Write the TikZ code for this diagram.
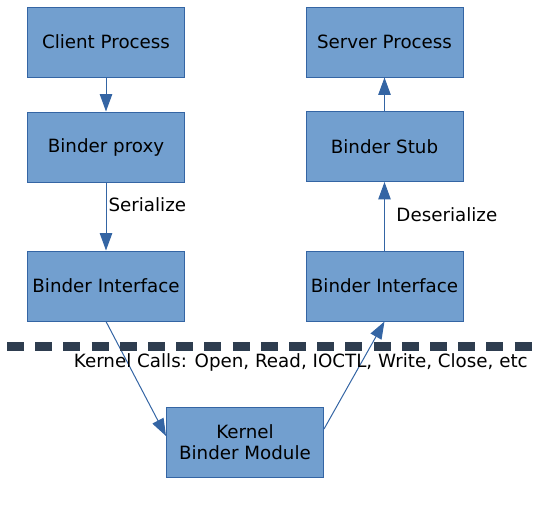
\documentclass[tikz,border=0pt]{standalone}
\usepackage{fontspec}
\setmainfont{DejaVu Sans}
\usetikzlibrary{arrows.meta}
\definecolor{boxfill}{HTML}{729FCF}
\definecolor{boxline}{HTML}{3465A4}
\definecolor{dashcol}{HTML}{2E3D4F}
\begin{document}
\begin{tikzpicture}[x=0.75pt,y=-0.75pt,
  blk/.style={draw=boxline,fill=boxfill,line width=0.75pt,minimum width=117.75pt,minimum height=52.5pt,inner sep=0pt,font=\fontsize{13.7}{15.75}\selectfont,align=center},
  conn/.style={draw=boxline,line width=0.75pt,-{Triangle[length=13pt,width=9.3pt]}},
  lbl/.style={font=\fontsize{13.7}{15.75}\selectfont,inner sep=0pt}]
\useasboundingbox (0,0) rectangle (536,529);
\node[blk] (client) at (106,42) {Client Process};
\node[blk] (proxy) at (106,147) {Binder proxy};
\node[blk] (lint) at (106,286) {Binder Interface};
\node[blk] (server) at (384.5,42) {Server Process};
\node[blk] (stub) at (384.5,146.5) {Binder Stub};
\node[blk] (rint) at (384.5,286) {Binder Interface};
\node[blk] (kern) at (245,442) {Kernel\\Binder Module};
\draw[conn] (client) -- (proxy);
\draw[conn] (proxy) -- node[lbl,right=1.5pt,pos=0.33] (ser) {Serialize} (lint);
\draw[conn] (stub) -- (server);
\draw[conn] (rint) -- node[lbl,right=8.6pt,pos=0.53] (deser) {Deserialize} (stub);
\coordinate (kl) at ([yshift=4.5pt]kern.west);
\coordinate (kr) at ([yshift=9.75pt]kern.east);
\draw[conn] (lint.south) -- (kl);
\draw[conn] (kr) -- (rint.south);
\coordinate (d1) at (7,346);
\coordinate (d2) at (536,346);
\draw[dashcol,line width=6.75pt,dash pattern=on 12.75pt off 8.4pt] (d1) -- (d2);
\node[lbl,anchor=east] (kcalls) at (528,362) {Kernel Calls: Open, Read, IOCTL, Write, Close, etc};
\end{tikzpicture}
\end{document}
